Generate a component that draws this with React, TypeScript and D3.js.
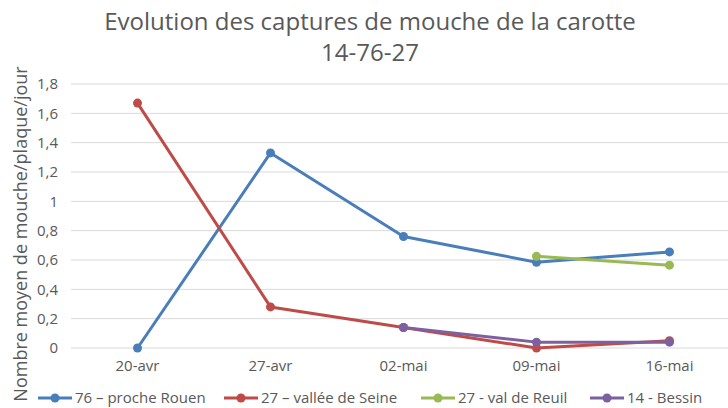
import { useEffect, useMemo, useRef } from "react";
import * as d3 from "d3";

const WIDTH = 728;
const HEIGHT = 408;
const MARGIN = { top: 84, right: -8, bottom: 60, left: 71 };

const categories = ["20-avr", "27-avr", "02-mai", "09-mai", "16-mai"];
const yTicks = [0, 0.2, 0.4, 0.6, 0.8, 1, 1.2, 1.4, 1.6, 1.8];

const rouen = [0, 1.33, 0.76, 0.585, 0.655];
const seine = [1.67, 0.28, 0.14, 0, 0.05];
const reuil = [null, null, null, 0.625, 0.565];
const bessin = [null, null, 0.14, 0.04, 0.04];

const seriesNames = ["76 – proche Rouen", "27 – vallée de Seine", "27 - val de Reuil", "14 - Bessin"];
const seriesColors = ["#4A7EBB", "#BE4B48", "#98B954", "#7D60A0"];
const legendX = [38, 224, 421, 590];

const FONT = "'Open Sans', 'Segoe UI', sans-serif";

export default function App() {
  const axisRef = useRef<SVGGElement>(null);
  const boundsWidth = WIDTH - MARGIN.left - MARGIN.right;
  const boundsHeight = HEIGHT - MARGIN.top - MARGIN.bottom;

  const xScale = useMemo(
    () => d3.scaleBand().domain(categories).range([0, boundsWidth]),
    [boundsWidth]
  );
  const yScale = useMemo(
    () => d3.scaleLinear().domain([0, 1.8]).range([boundsHeight, 0]),
    [boundsHeight]
  );

  const series = [rouen, seine, reuil, bessin];
  const cx = (i: number) => (xScale(categories[i]) ?? 0) + xScale.bandwidth() / 2;

  const line = d3
    .line<number | null>()
    .defined((d) => d !== null)
    .x((_, i) => cx(i))
    .y((d) => yScale(d as number));

  useEffect(() => {
    const g = d3.select(axisRef.current);
    g.selectAll("*").remove();
    const fmt = (d: number) => d3.format("~g")(d).replace(".", ",");

    g.append("g")
      .selectAll("line")
      .data(yTicks)
      .join("line")
      .attr("x1", 0)
      .attr("x2", boundsWidth)
      .attr("y1", (d) => yScale(d))
      .attr("y2", (d) => yScale(d))
      .attr("stroke", "#D9D9D9")
      .attr("stroke-width", 1);

    g.append("g")
      .selectAll("text")
      .data(yTicks)
      .join("text")
      .attr("x", -13)
      .attr("y", (d) => yScale(d))
      .attr("dy", "0.35em")
      .attr("text-anchor", "end")
      .attr("font-size", 15)
      .attr("font-family", FONT)
      .attr("fill", "#595959")
      .text(fmt);

    g.append("g")
      .selectAll("text")
      .data(categories)
      .join("text")
      .attr("x", (_, i) => cx(i))
      .attr("y", boundsHeight + 23)
      .attr("text-anchor", "middle")
      .attr("font-size", 15)
      .attr("font-family", FONT)
      .attr("fill", "#595959")
      .text((d) => d);
  }, [xScale, yScale, boundsWidth, boundsHeight]);

  return (
    <div style={{ position: "absolute", left: 0, top: 0 }}>
      <svg width={WIDTH} height={HEIGHT} style={{ display: "block", background: "#fff" }}>
        <text x={370} y={30} textAnchor="middle" fontSize={24} fontFamily={FONT} fill="#595959">
          Evolution des captures de mouche de la carotte
        </text>
        <text x={370} y={61} textAnchor="middle" fontSize={24} fontFamily={FONT} fill="#595959">
          14-76-27
        </text>
        <text
          transform="translate(27,234) rotate(-90)"
          textAnchor="middle"
          fontSize={18}
          fontFamily={FONT}
          fill="#595959"
        >
          Nombre moyen de mouche/plaque/jour
        </text>
        <g transform={`translate(${MARGIN.left},${MARGIN.top})`}>
          <g ref={axisRef} />
          {series.map((s, k) => (
            <g key={k}>
              <path d={line(s) ?? ""} fill="none" stroke={seriesColors[k]} strokeWidth={3} strokeLinejoin="round" />
              {s.map((d, i) =>
                d === null ? null : (
                  <circle key={i} cx={cx(i)} cy={yScale(d)} r={4.5} fill={seriesColors[k]} />
                )
              )}
            </g>
          ))}
        </g>
        <g transform="translate(0,398)">
          {seriesNames.map((name, k) => (
            <g key={k} transform={`translate(${legendX[k]},0)`}>
              <line x1={0} x2={34} y1={0} y2={0} stroke={seriesColors[k]} strokeWidth={3} />
              <circle cx={17} cy={0} r={4.5} fill={seriesColors[k]} />
              <text x={37} y={0} dy="0.35em" fontSize={15} fontFamily={FONT} fill="#595959">
                {name}
              </text>
            </g>
          ))}
        </g>
      </svg>
    </div>
  );
}
